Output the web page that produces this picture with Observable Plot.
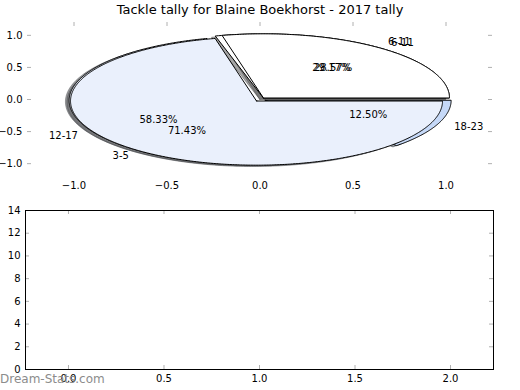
<!DOCTYPE html>
<html><head><meta charset="utf-8">
<script src="https://cdn.jsdelivr.net/npm/d3@7"></script>
<script src="https://cdn.jsdelivr.net/npm/@observablehq/plot@0.6"></script>
<style>
body{margin:0;background:#fff;}
#wrap{position:relative;width:520px;height:390px;font-family:"DejaVu Sans",sans-serif;overflow:hidden;background:#fff;}
#top{position:absolute;left:0;top:0;}
#bottom{position:absolute;left:0;top:200px;}
#title{position:absolute;left:0;width:520px;top:2px;text-align:center;font-size:13px;color:#000;}
#wm{position:absolute;left:0;top:372px;font-size:12px;color:#8c8c8c;}
svg{overflow:visible;}
</style></head><body>
<div id="wrap">
  <div id="top"></div>
  <div id="bottom"></div>
  <div id="title">Tackle tally for Blaine Boekhorst - 2017 tally</div>
  <div id="wm">Dream-Stats.com</div>
</div>
<script>
const pieALabels = ["6-11", "3-5"];
const pieAValues = [2, 5];
const pieBLabels = ["6-11", "12-17", "18-23"];
const pieBValues = [7, 14, 3];
const sliceColors = ["#ffffff", "#eaf0fc", "#c6d9f8"];
const explode = 0.03;
const shadowOffset = 0.02;
const topXTicks = [-1, -0.5, 0, 0.5, 1];
const topYTicks = [-1, -0.5, 0, 0.5, 1];
const bottomXTicks = [0, 0.5, 1, 1.5, 2];
const bottomYTicks = [0, 2, 4, 6, 8, 10, 12, 14];

function wedges(labels, values) {
  const total = d3.sum(values);
  let start = 0;
  return values.map((v, i) => {
    const frac = v / total;
    const a0 = start * 2 * Math.PI, a1 = (start + frac) * 2 * Math.PI;
    start += frac;
    const mid = (a0 + a1) / 2;
    const cx = explode * Math.cos(mid), cy = explode * Math.sin(mid);
    const n = Math.max(2, Math.ceil((a1 - a0) / (Math.PI / 360)));
    const pts = [{x: cx, y: cy}];
    for (let k = 0; k <= n; k++) {
      const a = a0 + (a1 - a0) * k / n;
      pts.push({x: cx + Math.cos(a), y: cy + Math.sin(a)});
    }
    pts.push({x: cx, y: cy});
    const c = d3.rgb(sliceColors[i]);
    const shadow = d3.rgb(c.r * 0.3, c.g * 0.3, c.b * 0.3).formatHex();
    return {
      label: labels[i], pct: (frac * 100).toFixed(2) + "%", color: sliceColors[i], shadow, pts,
      lx: cx + 1.1 * Math.cos(mid), ly: cy + 1.1 * Math.sin(mid),
      px: cx + 0.6 * Math.cos(mid), py: cy + 0.6 * Math.sin(mid)
    };
  });
}

const pieB = wedges(pieBLabels, pieBValues);
const pieA = wedges(pieALabels, pieAValues);
const all = [...pieB, ...pieA];

const tickColor = "#b0b0b0";
const topW = 520, topH = 200, tML = 27, tMR = 28, tMT = 22, tMB = 24;
const tFW = topW - tML - tMR, tFH = topH - tMT - tMB;

const marks = [];
// shadows (below all wedges)
for (const w of all) {
  marks.push(Plot.line(w.pts, {x: d => d.x - shadowOffset, y: d => d.y - shadowOffset, fill: w.shadow, fillOpacity: 0.5, stroke: w.shadow, strokeOpacity: 0.5, strokeWidth: 1}));
}
// wedges
for (const w of all) {
  marks.push(Plot.line(w.pts, {x: "x", y: "y", fill: w.color, stroke: "#000", strokeWidth: 1}));
}
// labels
for (const w of all) {
  marks.push(Plot.text([w], {x: "lx", y: "ly", text: "label", textAnchor: w.lx > 0 ? "start" : "end", fontSize: 10, fill: "#000"}));
  marks.push(Plot.text([w], {x: "px", y: "py", text: "pct", textAnchor: "middle", fontSize: 10, fill: "#000"}));
}
// inward ticks
marks.push(Plot.tickY(topYTicks, {y: d => d, stroke: tickColor, insetRight: tFW - 4}));
marks.push(Plot.tickY(topYTicks, {y: d => d, stroke: tickColor, insetLeft: tFW - 4}));
marks.push(Plot.tickX(topXTicks, {x: d => d, stroke: tickColor, insetBottom: tFH - 4}));
marks.push(Plot.axisX({ticks: topXTicks, anchor: "bottom", tickSize: 0, tickPadding: 5, tickFormat: d3.format(".1f"), fontSize: 10}));
marks.push(Plot.axisY({ticks: topYTicks, anchor: "left", tickSize: 0, tickPadding: 5, tickFormat: d3.format(".1f"), fontSize: 10}));

const topPlot = Plot.plot({
  width: topW, height: topH,
  marginLeft: tML, marginRight: tMR, marginTop: tMT, marginBottom: tMB,
  x: {domain: [-1.25, 1.25]},
  y: {domain: [-1.2, 1.2]},
  style: {fontFamily: "DejaVu Sans", fontSize: "10px", background: "transparent", color: "#000", overflow: "visible"},
  marks
});
document.getElementById("top").appendChild(topPlot);

const botW = 520, botH = 190, bML = 25, bMR = 27, bMT = 10, bMB = 21;
const bFW = botW - bML - bMR, bFH = botH - bMT - bMB;
const botPlot = Plot.plot({
  width: botW, height: botH,
  marginLeft: bML, marginRight: bMR, marginTop: bMT, marginBottom: bMB,
  x: {domain: [-0.225, 2.225]},
  y: {domain: [0, 14]},
  style: {fontFamily: "DejaVu Sans", fontSize: "10px", background: "transparent", color: "#000", overflow: "visible"},
  marks: [
    Plot.tickY(bottomYTicks, {y: d => d, stroke: tickColor, insetRight: bFW - 4}),
    Plot.tickY(bottomYTicks, {y: d => d, stroke: tickColor, insetLeft: bFW - 4}),
    Plot.tickX(bottomXTicks, {x: d => d, stroke: tickColor, insetBottom: bFH - 4}),
    Plot.tickX(bottomXTicks, {x: d => d, stroke: tickColor, insetTop: bFH - 4}),
    Plot.frame({stroke: "#000", strokeWidth: 1}),
    Plot.axisX({ticks: bottomXTicks, anchor: "bottom", tickSize: 0, tickPadding: 5, tickFormat: d3.format(".1f"), fontSize: 10}),
    Plot.axisY({ticks: bottomYTicks, anchor: "left", tickSize: 0, tickPadding: 5, tickFormat: d3.format("d"), fontSize: 10})
  ]
});
document.getElementById("bottom").appendChild(botPlot);
</script>
</body></html>
